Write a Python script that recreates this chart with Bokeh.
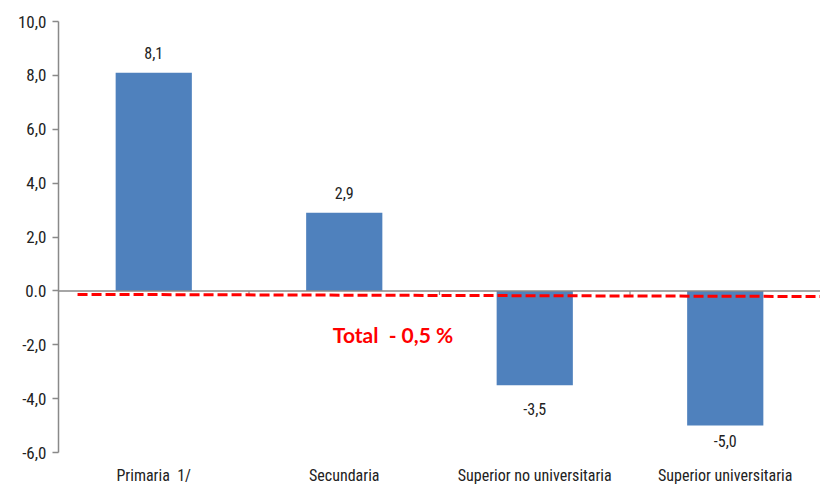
from bokeh.plotting import figure
from bokeh.models import Range1d, FixedTicker, ColumnDataSource, Span, Label
from bokeh.core.properties import value
from bokeh.embed import file_html
from bokeh.resources import INLINE

categories = ["Primaria\u00a0\u00a01/", "Secundaria", "Superior no universitaria", "Superior universitaria"]
values = [8.1, 2.9, -3.5, -5.0]
value_labels = ["8,1", "2,9", "-3,5", "-5,0"]
y_ticks = [-6, -4, -2, 0, 2, 4, 6, 8, 10]
y_tick_labels = ["-6,0", "-4,0", "-2,0", "0.0", "2,0", "4,0", "6,0", "8,0", "10,0"]
total_label = "Total\u00a0\u00a0- 0,5 %"
total_line_x = [0.1, 4.0]
total_line_y = [-0.13, -0.21]

FONT = "'Liberation Sans Narrow', 'Arial Narrow', 'Roboto Condensed', Roboto, sans-serif"

p = figure(width=820, height=488, output_backend="svg", toolbar_location=None,
           x_range=Range1d(0, 4), y_range=Range1d(-6, 10),
           min_border_left=58, min_border_right=0, min_border_top=21, min_border_bottom=36)
p.outline_line_color = None
p.xgrid.visible = False
p.ygrid.visible = False

xs = [i + 0.5 for i in range(len(categories))]
src = ColumnDataSource(dict(x=xs, top=values, lab=value_labels))
p.vbar(x="x", top="top", bottom=0, width=0.4, source=src, fill_color="#4F81BD", line_color=None)

# zero line
p.add_layout(Span(location=0, dimension="width", line_color="#898989", line_width=1.5))
# category separator ticks on zero line
p.segment(x0=[1, 2, 3], y0=[0, 0, 0], x1=[1, 2, 3], y1=[-0.15, -0.15, -0.15],
          line_color="#898989", line_width=1.2)

# total dashed line
p.line(total_line_x, total_line_y, line_color="#FF0000", line_width=3, line_dash="10 4")

# value labels: above positive bars, below negative bars (kept inside the plot area)
lx, ly, lt, loff, lbase = [], [], [], [], []
for x, v, l in zip(xs, values, value_labels):
    lx.append(x)
    lt.append(l)
    if v >= 0:
        ly.append(v)
        loff.append(-20.0)
    else:
        ly.append(max(v, -5.6))
        loff.append(24.0 if v > -5.0 else 15.0)
lab_src = ColumnDataSource(dict(x=lx, y=ly, t=lt, off=loff))
p.text(x="x", y="y", text="t", source=lab_src, text_align="center", text_baseline="middle",
       y_offset="off", text_font=value(FONT), text_font_size="16px", text_color="#222222")

p.add_layout(Label(x=1.44, y=-1.62, text=total_label, text_align="left", text_baseline="middle",
                   text_font="Lato", text_font_style="bold", text_font_size="21px",
                   text_color="#FF0000"))

# y axis
p.yaxis.ticker = FixedTicker(ticks=y_ticks)
p.yaxis.major_label_overrides = {t: l for t, l in zip(y_ticks, y_tick_labels)}
p.yaxis.axis_line_color = "#898989"
p.yaxis.axis_line_width = 1.5
p.yaxis.major_tick_line_color = "#898989"
p.yaxis.major_tick_line_width = 1.5
p.yaxis.major_tick_out = 6
p.yaxis.major_tick_in = 0
p.yaxis.minor_tick_line_color = None
p.yaxis.major_label_text_font = FONT
p.yaxis.major_label_text_font_size = "17px"
p.yaxis.major_label_text_color = "#222222"
p.yaxis.major_label_standoff = 6

# x axis (labels only)
p.xaxis.ticker = FixedTicker(ticks=xs)
p.xaxis.major_label_overrides = {x: c for x, c in zip(xs, categories)}
p.xaxis.axis_line_color = None
p.xaxis.major_tick_line_color = None
p.xaxis.major_tick_out = 0
p.xaxis.major_tick_in = 0
p.xaxis.minor_tick_line_color = None
p.xaxis.minor_tick_out = 0
p.xaxis.major_label_text_font = FONT
p.xaxis.major_label_text_font_size = "16px"
p.xaxis.major_label_text_color = "#222222"
p.xaxis.major_label_standoff = 13

open("out.html", "w").write(file_html(p, INLINE))
